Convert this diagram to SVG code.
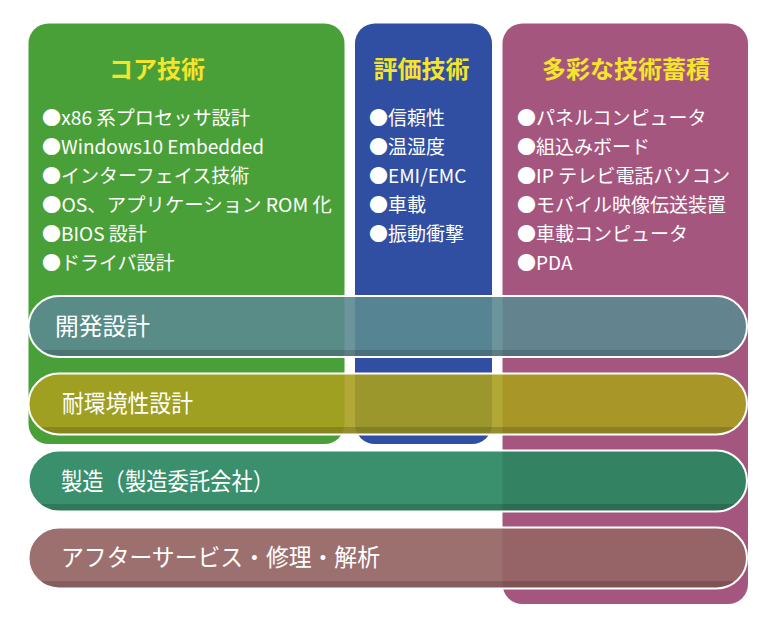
<svg xmlns="http://www.w3.org/2000/svg" width="768" height="627" viewBox="0 0 768 627">
  <defs>
    <style>
      text { font-family: "Noto Sans CJK JP", "Noto Sans", sans-serif; }
      .title { font-size: 24px; font-weight: 700; fill: #f4e52c; text-anchor: middle; }
      .item { font-size: 19px; fill: #ffffff; }
      .label { font-size: 24px; fill: #ffffff; }
      .bar-edge { fill: none; stroke: #ffffff; stroke-width: 2; }
      .bar-shade { fill: url(#shade); }
    </style>
    <linearGradient id="shade" x1="0" y1="0" x2="0" y2="1">
      <stop offset="0" stop-color="#000" stop-opacity="0"/>
      <stop offset="0.88" stop-color="#000" stop-opacity="0"/>
      <stop offset="0.88" stop-color="#000" stop-opacity="0.16"/>
      <stop offset="1" stop-color="#000" stop-opacity="0.16"/>
    </linearGradient>
  </defs>
  <rect width="768" height="627" fill="#ffffff"/>

  <g id="core-tech">
    <rect x="28.5" y="23.5" width="316" height="420.5" rx="20" fill="#4aa038"/>
    <text class="title" x="157" y="78">コア技術</text>
    <text class="item" x="42" y="125" textLength="208" lengthAdjust="spacingAndGlyphs">●x86 系プロセッサ設計</text>
    <text class="item" x="42" y="154">●Windows10 Embedded</text>
    <text class="item" x="42" y="183">●インターフェイス技術</text>
    <text class="item" x="42" y="212" textLength="290" lengthAdjust="spacingAndGlyphs">●OS、アプリケーション ROM 化</text>
    <text class="item" x="42" y="241">●BIOS 設計</text>
    <text class="item" x="42" y="270">●ドライバ設計</text>
  </g>

  <g id="evaluation-tech">
    <rect x="355" y="23.5" width="137" height="420.5" rx="20" fill="#304fa2"/>
    <text class="title" x="421.5" y="78">評価技術</text>
    <text class="item" x="369" y="125">●信頼性</text>
    <text class="item" x="369" y="154">●温湿度</text>
    <text class="item" x="369" y="183">●EMI/EMC</text>
    <text class="item" x="369" y="212">●車載</text>
    <text class="item" x="369" y="241">●振動衝撃</text>
  </g>

  <g id="accumulated-tech">
    <rect x="502.5" y="23.5" width="245.5" height="580.5" rx="20" fill="#a5567e"/>
    <text class="title" x="626" y="78">多彩な技術蓄積</text>
    <text class="item" x="517" y="125">●パネルコンピュータ</text>
    <text class="item" x="517" y="154">●組込みボード</text>
    <text class="item" x="517" y="183" textLength="213" lengthAdjust="spacingAndGlyphs">●IP テレビ電話パソコン</text>
    <text class="item" x="517" y="212">●モバイル映像伝送装置</text>
    <text class="item" x="517" y="241">●車載コンピュータ</text>
    <text class="item" x="517" y="270">●PDA</text>
  </g>

  <g id="development-design">
    <rect x="28.5" y="296" width="718.5" height="61" rx="30.5" fill="#5c8a90" fill-opacity="0.9"/>
    <rect class="bar-shade" x="28.5" y="296" width="718.5" height="61" rx="30.5"/>
    <rect class="bar-edge" x="28.5" y="296" width="718.5" height="61" rx="30.5"/>
    <text class="label" x="55" y="335" textLength="95" lengthAdjust="spacingAndGlyphs">開発設計</text>
  </g>

  <g id="environment-design">
    <rect x="28.5" y="373.5" width="718.5" height="61" rx="30.5" fill="#a89e1f" fill-opacity="0.9"/>
    <rect class="bar-shade" x="28.5" y="373.5" width="718.5" height="61" rx="30.5"/>
    <rect class="bar-edge" x="28.5" y="373.5" width="718.5" height="61" rx="30.5"/>
    <text class="label" x="62" y="412" textLength="131" lengthAdjust="spacingAndGlyphs">耐環境性設計</text>
  </g>

  <g id="manufacturing">
    <rect x="28.5" y="450.5" width="718.5" height="61" rx="30.5" fill="#29865f" fill-opacity="0.92"/>
    <rect class="bar-shade" x="28.5" y="450.5" width="718.5" height="61" rx="30.5"/>
    <rect class="bar-edge" x="28.5" y="450.5" width="718.5" height="61" rx="30.5"/>
    <text class="label" x="61" y="490" textLength="213" lengthAdjust="spacingAndGlyphs">製造（製造委託会社）</text>
  </g>

  <g id="after-service">
    <rect x="28.5" y="527.5" width="718.5" height="61" rx="30.5" fill="#956464" fill-opacity="0.92"/>
    <rect class="bar-shade" x="28.5" y="527.5" width="718.5" height="61" rx="30.5"/>
    <rect class="bar-edge" x="28.5" y="527.5" width="718.5" height="61" rx="30.5"/>
    <text class="label" x="61" y="566" textLength="319" lengthAdjust="spacingAndGlyphs">アフターサービス・修理・解析</text>
  </g>
</svg>
